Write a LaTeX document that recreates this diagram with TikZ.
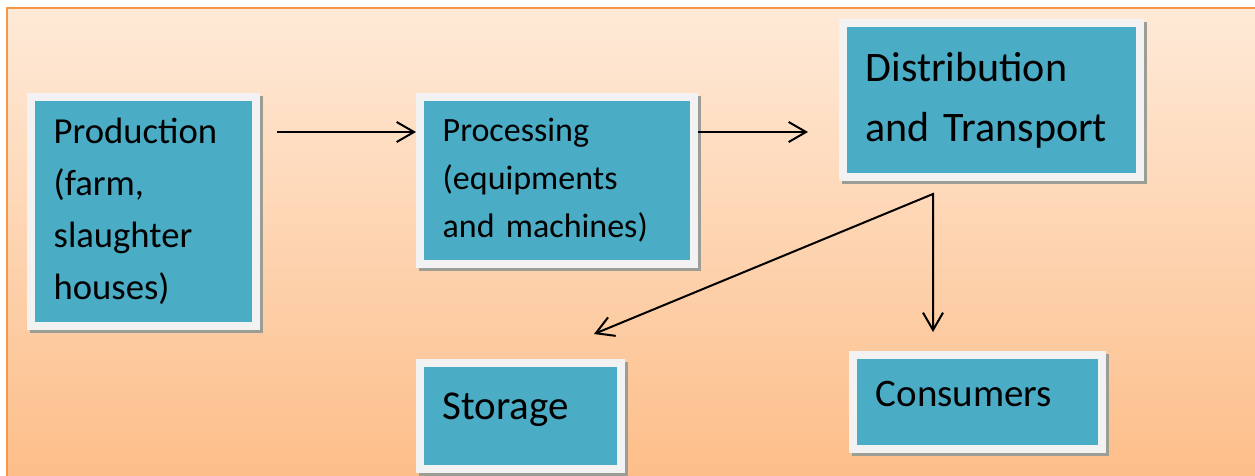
\documentclass[tikz,border=0pt]{standalone}
\usepackage{fontspec}
\setmainfont{Carlito}
\usetikzlibrary{arrows.meta}
\definecolor{stagefill}{HTML}{4BACC6}
\definecolor{stageline}{HTML}{F2F2F2}
\definecolor{stageshadow}{RGB}{156,158,150}
\definecolor{frameline}{HTML}{F79646}
\definecolor{frametop}{RGB}{254,234,216}
\definecolor{framebottom}{RGB}{253,188,134}
\tikzset{
  flowtip/.tip={Straight Barb[length=13pt,width=15pt]},
  stage/.style={rectangle, fill=stagefill, draw=stageline, line width=6pt,
    preaction={fill=stageshadow, draw=stageshadow, line width=6pt,
      transform canvas={shift={(2.25pt,-2.25pt)}}},
    inner xsep=17pt, inner ysep=0pt, align=left},
  flow/.style={-flowtip, line width=1.5pt, line join=miter},
}
\begin{document}
\begin{tikzpicture}[x=0.75pt,y=-0.75pt]
\useasboundingbox (0,0) rectangle (1255,475);
% background panel
\shade[top color=frametop, bottom color=framebottom, draw=frameline, line width=1.5pt]
  (7,8) rectangle (1275,495);
% stages
\node[stage, minimum width=168.75pt, minimum height=171.75pt, text width=134.75pt,
  font=\fontsize{27.5}{39}\selectfont] (prod) at (143.5,211.5)
  {Production\\(farm,\\slaughter\\houses)};
\node[stage, minimum width=205.5pt, minimum height=125.25pt, text width=171.5pt,
  font=\fontsize{25.5}{36}\selectfont] (proc) at (557,180.5)
  {Processing\\(equipments\\and machines)};
\node[stage, minimum width=222.75pt, minimum height=115.5pt, text width=188.75pt,
  font=\fontsize{31.5}{45}\selectfont] (dist) at (991.5,100)
  {Distribution\\and Transport};
\node[stage, minimum width=150.75pt, minimum height=79.5pt, text width=116.75pt,
  text depth=15pt, font=\fontsize{30.75}{40}\selectfont] (stor) at (520.5,416)
  {Storage};
\node[stage, minimum width=186.75pt, minimum height=70.5pt, text width=152.75pt,
  text depth=12pt, font=\fontsize{29.25}{38}\selectfont] (cons) at (977.5,402)
  {Consumers};
% connectors
\coordinate (p-out) at (277,132);
\coordinate (d-in) at (808,132);
\coordinate (split) at (933,194);
\coordinate (s-in) at (594,334);
\coordinate (c-in) at (933,332);
\draw[flow] (p-out) -- (p-out -| proc.west);
\draw[flow] (d-in -| proc.east) -- (d-in);
\draw[flow, flowtip-flowtip] (s-in) -- (split) -- (c-in);
\end{tikzpicture}
\end{document}
